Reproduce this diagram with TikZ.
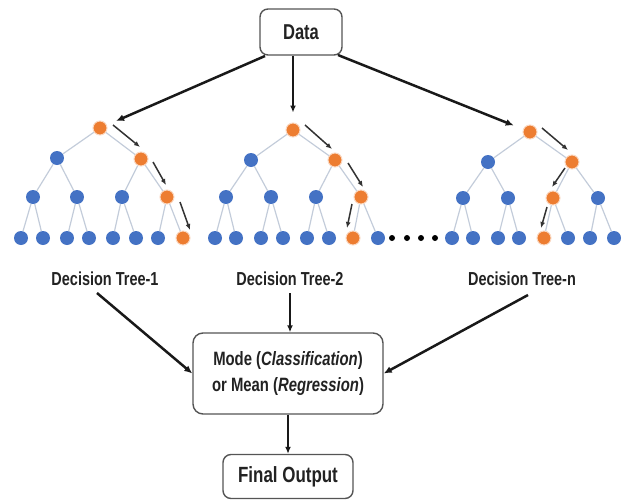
\documentclass[tikz,border=0pt]{standalone}
\usepackage{fontspec}
\setmainfont{Liberation Sans}[FakeStretch=0.77]
\usetikzlibrary{arrows.meta,calc}
\definecolor{nblue}{HTML}{4472C4}
\definecolor{norange}{HTML}{ED7D31}
\definecolor{edgec}{HTML}{C3CCDA}
\definecolor{txt}{HTML}{222222}
\definecolor{boxc}{HTML}{555555}
\tikzset{
  bn/.style={circle,fill=nblue,inner sep=0pt,minimum size=14pt},
  on/.style={circle,fill=norange,draw=norange!30,line width=1pt,inner sep=0pt,minimum size=14pt},
  tedge/.style={draw=edgec,line width=1.2pt},
  path/.style={draw=black!80,line width=1.5pt,-{Latex[length=6pt,width=5pt]}},
  bigarrow/.style={draw=black!90,line width=2.5pt,-{Latex[length=8pt,width=7pt]}},
  midarrow/.style={draw=black!90,line width=1.7pt,-{Latex[length=7pt,width=6pt]}},
  rbox/.style={draw=boxc,line width=1.4pt,rounded corners=8pt,fill=white,text=txt,font=\bfseries,align=center,inner sep=0pt},
  lbl/.style={text=txt,font=\bfseries\fontsize{18.8}{20}\selectfont,anchor=base},
  dotn/.style={circle,fill=black,inner sep=0pt,minimum size=6pt}
}
\begin{document}
\begin{tikzpicture}[x=1pt,y=-1pt]
\useasboundingbox (0,0) rectangle (627,501);
% boxes
\node[rbox,minimum width=82pt,minimum height=46pt,font=\bfseries\fontsize{21.5}{22}\selectfont] (data) at (301,32) {Data};
\node[rbox,rounded corners=10pt,minimum width=190pt,minimum height=81pt,font=\bfseries\fontsize{19.3}{25.5}\selectfont] (mode) at (288,373.5) {Mode (\textit{Classification})\\or Mean (\textit{Regression})};
\node[rbox,minimum width=130pt,minimum height=44pt,font=\bfseries\fontsize{22}{22}\selectfont] (final) at (288,476.5) {Final Output};

% tree 1
\node[on] (a) at (100,128) {};
\node[bn] (a1) at (57,158) {};
\node[on] (a2) at (141,159) {};
\node[bn] (a11) at (33,197) {};
\node[bn] (a12) at (77,197) {};
\node[bn] (a21) at (122,197) {};
\node[on] (a22) at (167,197) {};
\node[bn] (a111) at (21,238) {};
\node[bn] (a112) at (43,238) {};
\node[bn] (a121) at (67,238) {};
\node[bn] (a122) at (89,238) {};
\node[bn] (a211) at (113,238) {};
\node[bn] (a212) at (136,238) {};
\node[bn] (a221) at (158,238) {};
\node[on] (a222) at (183,238) {};
\foreach \p/\c in {a/a1,a/a2,a1/a11,a1/a12,a2/a21,a2/a22,a11/a111,a11/a112,a12/a121,a12/a122,a21/a211,a21/a212,a22/a221,a22/a222}
  \draw[tedge] (\p) -- (\c);

% tree 2
\node[on] (b) at (293,130) {};
\node[bn] (b1) at (251,160) {};
\node[on] (b2) at (335,160) {};
\node[bn] (b11) at (226,197) {};
\node[bn] (b12) at (271,197) {};
\node[bn] (b21) at (316,197) {};
\node[on] (b22) at (361,197) {};
\node[bn] (b111) at (215,238) {};
\node[bn] (b112) at (236,238) {};
\node[bn] (b121) at (261,238) {};
\node[bn] (b122) at (283,238) {};
\node[bn] (b211) at (307,238) {};
\node[bn] (b212) at (329,238) {};
\node[on] (b221) at (353,238) {};
\node[bn] (b222) at (378,238) {};
\foreach \p/\c in {b/b1,b/b2,b1/b11,b1/b12,b2/b21,b2/b22,b11/b111,b11/b112,b12/b121,b12/b122,b21/b211,b21/b212,b22/b221,b22/b222}
  \draw[tedge] (\p) -- (\c);

% tree n
\node[on] (c) at (530,132) {};
\node[bn] (c1) at (488,162) {};
\node[on] (c2) at (572,162) {};
\node[bn] (c11) at (463,198) {};
\node[bn] (c12) at (508,198) {};
\node[on] (c21) at (553,198) {};
\node[bn] (c22) at (598,198) {};
\node[bn] (c111) at (452,238) {};
\node[bn] (c112) at (473,238) {};
\node[bn] (c121) at (498,238) {};
\node[bn] (c122) at (519,238) {};
\node[on] (c211) at (544,238) {};
\node[bn] (c212) at (568,238) {};
\node[bn] (c221) at (590,238) {};
\node[bn] (c222) at (614,238) {};
\foreach \p/\c in {c/c1,c/c2,c1/c11,c1/c12,c2/c21,c2/c22,c11/c111,c11/c112,c12/c121,c12/c122,c21/c211,c21/c212,c22/c221,c22/c222}
  \draw[tedge] (\p) -- (\c);

% dots
\node[dotn] (d1) at (392,238) {};
\node[dotn] (d2) at (407,238) {};
\node[dotn] (d3) at (421,238) {};
\node[dotn] (d4) at (435,238) {};

% decision path arrows
\coordinate (p1s) at (113,125); \coordinate (p1e) at (140,147);
\coordinate (p2s) at (153,162); \coordinate (p2e) at (166,185);
\coordinate (p3s) at (180,202); \coordinate (p3e) at (190,230);
\coordinate (q1s) at (305,125); \coordinate (q1e) at (332,149);
\coordinate (q2s) at (348,163); \coordinate (q2e) at (363,187);
\coordinate (q3s) at (352,204); \coordinate (q3e) at (347,228);
\coordinate (r1s) at (542,128); \coordinate (r1e) at (568,150);
\coordinate (r2s) at (565,168); \coordinate (r2e) at (552,187);
\coordinate (r3s) at (547,207); \coordinate (r3e) at (541,228);
\foreach \s/\e in {p1s/p1e,p2s/p2e,p3s/p3e,q1s/q1e,q2s/q2e,q3s/q3e,r1s/r1e,r2s/r2e,r3s/r3e}
  \draw[path] (\s) -- (\e);

% labels
\node[lbl] (l1) at (105,285) {Decision Tree-1};
\node[lbl] (l2) at (290,285) {Decision Tree-2};
\node[lbl] (l3) at (522,285) {Decision Tree-n};

% data arrows
\coordinate (dl) at (265,56);
\coordinate (dr) at (338,55);
\draw[bigarrow,shorten >=10pt] (dl) -- (a);
\draw[midarrow,shorten >=10pt] (data.south -| b) -- (b);
\draw[bigarrow,shorten >=10pt] (dr) -- (c);

% to aggregation
\coordinate (l1s) at (97,293);
\coordinate (l3s) at (528,295);
\coordinate (l2s) at (290,293);
\draw[bigarrow] (l1s) -- (mode.west);
\draw[midarrow] (l2s) -- (l2s |- mode.north);
\draw[bigarrow] (l3s) -- (mode.east);
\draw[midarrow] (mode.south) -- (final.north);
\end{tikzpicture}
\end{document}
